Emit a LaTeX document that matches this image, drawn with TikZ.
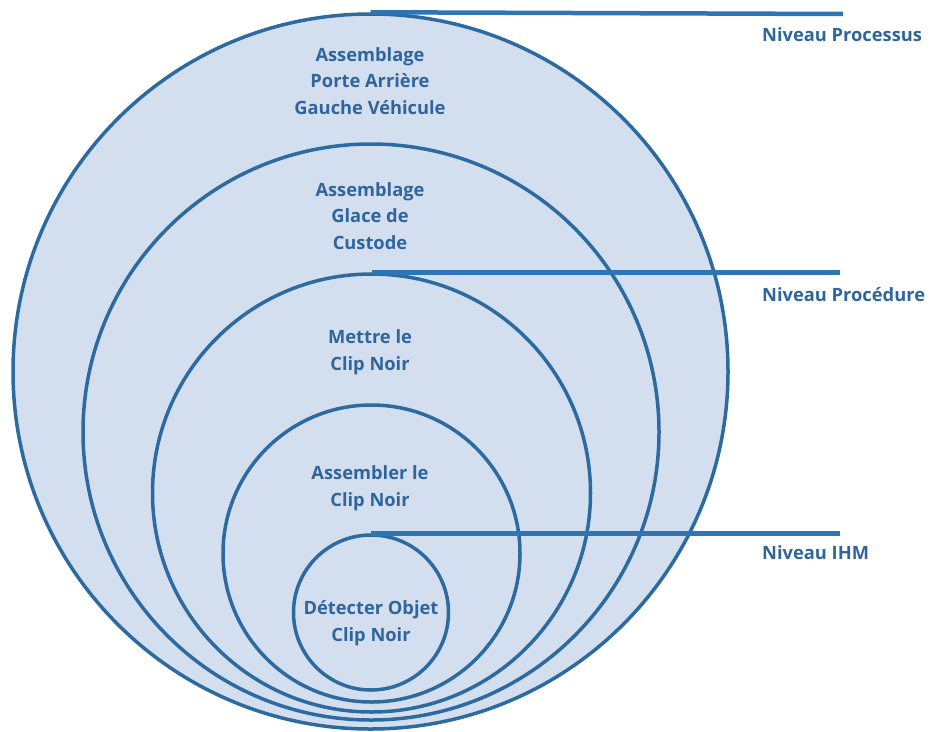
\documentclass[tikz,border=0pt]{standalone}
\usepackage{fontspec}
\setmainfont{Open Sans}
\definecolor{fillblue}{HTML}{D3DFEF}
\definecolor{ringblue}{HTML}{2C6AA0}
\definecolor{lineblue}{HTML}{2E75B6}
\definecolor{textblue}{HTML}{2F659C}
\begin{document}
\begin{tikzpicture}[x=1pt,y=-1pt,
  ring/.style={circle, draw=ringblue, line width=3.5pt, fill=fillblue, inner sep=0pt},
  lvl/.style={draw=lineblue, line width=4.5pt},
  txt/.style={text=textblue, font=\bfseries\fontsize{18.3}{26.5}\selectfont, align=center, inner sep=0pt},
  lbl/.style={text=textblue, font=\bfseries\fontsize{18.3}{20}\selectfont, anchor=west, inner sep=0pt}]
\useasboundingbox (0,0) rectangle (933,731);
\node[ring, minimum size=715pt] (c1) at (370.5,371.5) {};
\node[ring, minimum size=576pt] (c2) at (371,432) {};
\node[ring, minimum size=438pt] (c3) at (371.5,493) {};
\node[ring, minimum size=297pt] (c4) at (371.5,553.5) {};
\node[ring, minimum size=155pt] (c5) at (371,612.5) {};
\coordinate (e1) at (843,14);
\coordinate (e2) at (840,274);
\coordinate (e3) at (840,534);
\draw[lvl] (c1.north) -- (e1);
\draw[lvl] (c3.north) -- (e3 |- c3.north);
\draw[lvl] (c5.north) -- (e3 |- c5.north);
\node[txt] (t1) at (370,81) {Assemblage\\Porte Arrière\\Gauche Véhicule};
\node[txt] (t2) at (370,216) {Assemblage\\Glace de\\Custode};
\node[txt] (t3) at (370,352) {Mettre le\\Clip Noir};
\node[txt] (t4) at (370,488) {Assembler le\\Clip Noir};
\node[txt] (t5) at (371,623) {Détecter Objet\\Clip Noir};
\node[lbl] (l1) at (762,35) {Niveau Processus};
\node[lbl] (l2) at (762,295) {Niveau Procédure};
\node[lbl] (l3) at (762,553) {Niveau IHM};
\end{tikzpicture}
\end{document}
